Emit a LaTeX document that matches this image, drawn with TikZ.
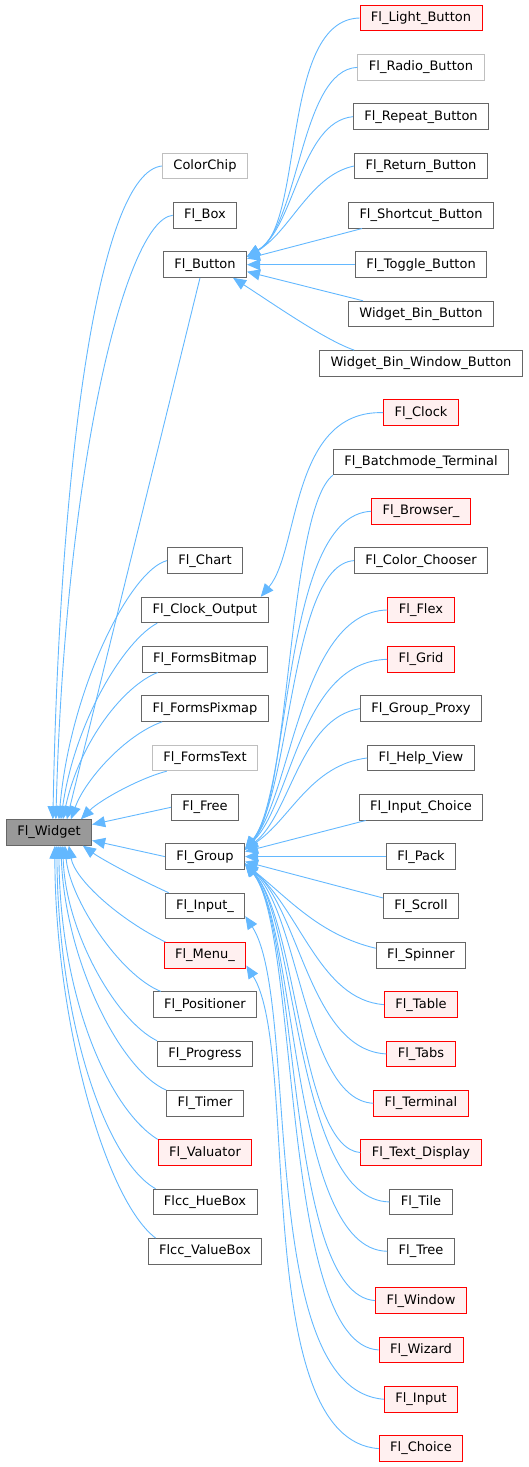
\documentclass[tikz,border=0pt]{standalone}
\usepackage{fontspec}
\setmainfont{DejaVu Sans}
\usetikzlibrary{arrows.meta}
\definecolor{edgeblue}{HTML}{63B8FF}
\definecolor{boxgray}{HTML}{666666}
\definecolor{palegray}{HTML}{BFBFBF}
\definecolor{redfill}{HTML}{FFF0F0}
\definecolor{rootfill}{HTML}{999999}
\tikzset{
	cls/.style={draw=boxgray,fill=white,line width=0.9pt,font=\fontsize{13}{15}\selectfont,minimum height=25.5pt,inner xsep=11pt,inner ysep=0pt},
	gry/.style={cls,draw=palegray},
	redcls/.style={cls,draw=red,fill=redfill},
	rootcls/.style={cls,fill=rootfill},
	inh/.style={edgeblue,line width=0.9pt,-{Triangle[length=13pt,width=11pt]}}
}
\begin{document}
\begin{tikzpicture}[x=1pt,y=-1pt]
	\useasboundingbox (0,0) rectangle (529,1467);
	\node[rootcls] (wid) at (49,832.5) {Fl\_Widget};
	\foreach \n/\t/\r/\s in {cc/ColorChip/3/gry,box/Fl\_Box/4/cls,btn/Fl\_Button/5/cls,cht/Fl\_Chart/11/cls,clo/Fl\_Clock\_Output/12/cls,fbm/Fl\_FormsBitmap/13/cls,fpm/Fl\_FormsPixmap/14/cls,ftx/Fl\_FormsText/15/gry,fre/Fl\_Free/16/cls,grp/Fl\_Group/17/cls,inp/Fl\_Input\_/18/cls,mnu/Fl\_Menu\_/19/redcls,pos/Fl\_Positioner/20/cls,prg/Fl\_Progress/21/cls,tmr/Fl\_Timer/22/cls,val/Fl\_Valuator/23/redcls,hue/Flcc\_HueBox/24/cls,vbx/Flcc\_ValueBox/25/cls}
		\node[\s] (\n) at (205,{18+49.33*\r}) {\t};
	\foreach \n/\t/\r/\s in {lb/Fl\_Light\_Button/0/redcls,rb/Fl\_Radio\_Button/1/gry,rpb/Fl\_Repeat\_Button/2/cls,rtb/Fl\_Return\_Button/3/cls,scb/Fl\_Shortcut\_Button/4/cls,tgb/Fl\_Toggle\_Button/5/cls,wbb/Widget\_Bin\_Button/6/cls,wbw/Widget\_Bin\_Window\_Button/7/cls,clk/Fl\_Clock/8/redcls,bmt/Fl\_Batchmode\_Terminal/9/cls,brw/Fl\_Browser\_/10/redcls,cch/Fl\_Color\_Chooser/11/cls,flx/Fl\_Flex/12/redcls,grd/Fl\_Grid/13/redcls,gpx/Fl\_Group\_Proxy/14/cls,hlp/Fl\_Help\_View/15/cls,ich/Fl\_Input\_Choice/16/cls,pck/Fl\_Pack/17/cls,scr/Fl\_Scroll/18/cls,spn/Fl\_Spinner/19/cls,tbl/Fl\_Table/20/redcls,tab/Fl\_Tabs/21/redcls,trm/Fl\_Terminal/22/redcls,txd/Fl\_Text\_Display/23/redcls,til/Fl\_Tile/24/cls,tre/Fl\_Tree/25/cls,win/Fl\_Window/26/redcls,wiz/Fl\_Wizard/27/redcls,fin/Fl\_Input/28/redcls,cho/Fl\_Choice/29/redcls}
		\node[\s] (\n) at (421,{18+49.33*\r}) {\t};
	% Fl_Widget
	\draw[inh] (cc.west) .. controls (100,172) and (60,450) .. ([xshift=47pt]wid.north west);
	\draw[inh] (box.west) .. controls (125,220) and (65,470) .. ([xshift=50pt]wid.north west);
	\draw[inh] ([xshift=-5pt]btn.south) -- ([xshift=61pt]wid.north west);
	\draw[inh] (cht.west) .. controls (130,570) and (70,690) .. ([xshift=53pt]wid.north west);
	\draw[inh] ([xshift=16pt]clo.south west) .. controls (125,640) and (75,720) .. ([xshift=55pt]wid.north west);
	\draw[inh] ([xshift=16pt]fbm.south west) .. controls (125,685) and (80,740) .. ([xshift=57pt]wid.north west);
	\draw[inh] ([xshift=21pt]fpm.south west) .. controls (125,735) and (85,780) .. ([xshift=65pt]wid.north west);
	\draw[inh] ([xshift=15pt]ftx.south west) .. controls (140,778) and (100,800) .. ([xshift=75pt]wid.north west);
	\draw[inh] (fre.west) -- ([yshift=8pt]wid.east);
	\draw[inh] (grp.west) -- ([yshift=-8pt]wid.east);
	\draw[inh] ([xshift=4pt]inp.north west) .. controls (130,875) and (100,858) .. ([xshift=77pt]wid.south west);
	\foreach \n/\s/\a/\b/\c/\d/\e in {mnu/2/120/920/75/880/63,pos/8/120/975/70/900/59,prg/0/115/1020/65/930/57,tmr/0/120/1070/65/960/55,val/0/110/1110/60/1000/53,hue/3/105/1160/58/1020/51,vbx/8/105/1200/55/1020/49}
		\draw[inh] ([xshift=\s pt]\n.north west) .. controls (\a,\b) and (\c,\d) .. ([xshift=\e pt]wid.south west);
	% Fl_Button
	\foreach \n/\a/\b/\c/\d in {lb/280/20/305/225,rb/300/70/300/225,rpb/300/122/295/228,rtb/310/175/290/232}
		\draw[inh] (\n.west) .. controls (\a,\b) and (\c,\d) .. ([yshift=8pt]btn.east);
	\draw[inh] ([xshift=14pt]scb.south west) -- ([yshift=6pt]btn.east);
	\draw[inh] (tgb.west) -- (btn.east);
	\draw[inh] ([xshift=15pt]wbb.north west) -- ([yshift=-7pt]btn.east);
	\draw[inh] ([xshift=35pt]wbw.north west) .. controls (325,340) and (275,305) .. ([xshift=-14pt]btn.south east);
	\draw[inh] (clk.west) .. controls (290,410) and (300,550) .. ([xshift=-8pt]clo.north east);
	% Fl_Group
	\draw[inh] (bmt.south west) .. controls (288,510) and (290,800) .. ([yshift=7pt]grp.east);
	\foreach \n/\a/\b/\c/\d in {brw/282/515/292/790,cch/290/565/292/790,flx/300/612/292/795,grd/300/662/293/800,gpx/300/718/290/815,hlp/310/765/290/820}
		\draw[inh] (\n.west) .. controls (\a,\b) and (\c,\d) .. ([yshift=7pt]grp.east);
	\draw[inh] ([xshift=7pt]ich.south west) -- ([yshift=5pt]grp.east);
	\draw[inh] (pck.west) -- (grp.east);
	\draw[inh] ([yshift=8pt]scr.west) -- ([yshift=-5pt]grp.east);
	\draw[inh] ([yshift=7pt]spn.west) .. controls (320,935) and (290,900) .. ([yshift=-7pt]grp.east);
	\foreach \n/\a/\b/\c/\d in {tbl/320/1000/300/910,tab/310/1050/300/910,trm/305/1100/300/915,txd/300/1148/298/920,til/295/1200/298/920,tre/290/1250/298/925,win/285/1295/300/930,wiz/280/1345/300/930}
		\draw[inh] (\n.west) .. controls (\a,\b) and (\c,\d) .. ([yshift=-7pt]grp.east);
	\draw[inh] (fin.west) .. controls (255,1390) and (300,1000) .. ([yshift=3pt]inp.south east);
	\draw[inh] (cho.west) .. controls (250,1440) and (300,1050) .. ([yshift=3pt]mnu.south east);
\end{tikzpicture}
\end{document}
